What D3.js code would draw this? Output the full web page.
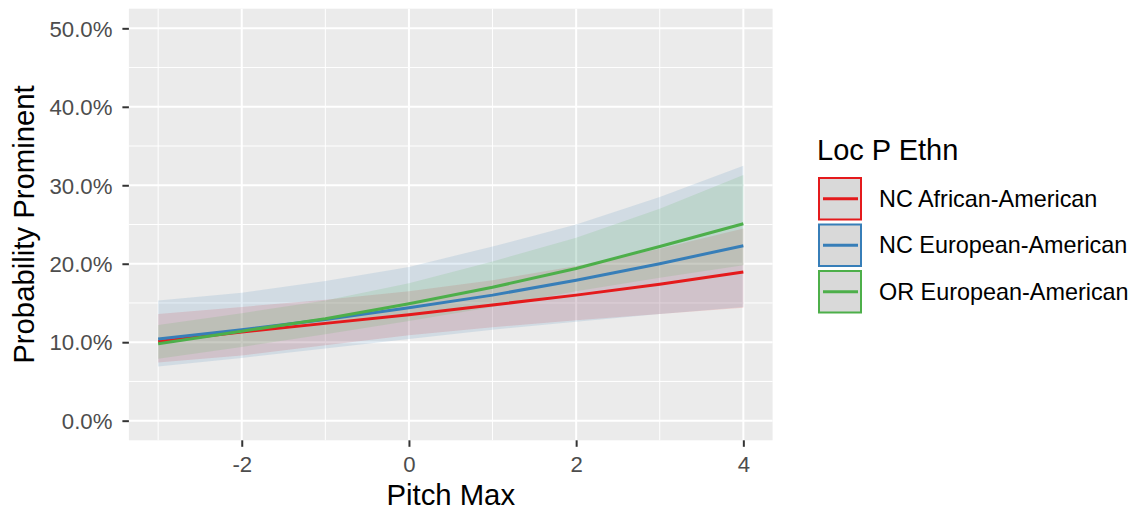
<!DOCTYPE html>
<html>
<head>
<meta charset="utf-8">
<script src="https://cdn.jsdelivr.net/npm/d3@7"></script>
<style>
  html, body { margin: 0; padding: 0; background: #ffffff; }
  svg { display: block; font-family: "Liberation Sans", Arial, sans-serif; }
</style>
</head>
<body>
<svg id="chart" width="1135" height="512"></svg>
<script>
// ---- data ----
const pitchMax = [-3, -2, -1, 0, 1, 2, 3, 4];
const groups = ["NC African-American", "NC European-American", "OR European-American"];
const groupColors = ["#E41A1C", "#377EB8", "#4DAF4A"];

const fitNCAA  = [0.101, 0.113, 0.124, 0.135, 0.1475, 0.160, 0.174, 0.1895];
const lowNCAA  = [0.074, 0.083, 0.096, 0.109, 0.119, 0.128, 0.136, 0.144];
const highNCAA = [0.136, 0.145, 0.154, 0.165, 0.179, 0.197, 0.219, 0.245];

const fitNCEA  = [0.104, 0.116, 0.129, 0.144, 0.160, 0.179, 0.200, 0.223];
const lowNCEA  = [0.069, 0.080, 0.092, 0.104, 0.116, 0.126, 0.136, 0.145];
const highNCEA = [0.153, 0.163, 0.178, 0.196, 0.222, 0.250, 0.285, 0.325];

const fitOREA  = [0.098, 0.114, 0.130, 0.149, 0.170, 0.194, 0.222, 0.251];
const lowOREA  = [0.079, 0.094, 0.110, 0.127, 0.145, 0.165, 0.182, 0.198];
const highOREA = [0.122, 0.137, 0.153, 0.175, 0.203, 0.233, 0.270, 0.313];

const xTicks = [-2, 0, 2, 4];
const xMinor = [-3, -1, 1, 3];
const yTicks = [0, 0.1, 0.2, 0.3, 0.4, 0.5];
const yMinor = [0.05, 0.15, 0.25, 0.35, 0.45];

const xTitle = "Pitch Max";
const yTitle = "Probability Prominent";
const legendTitle = "Loc P Ethn";

// ---- layout ----
const svg = d3.select("#chart");
const panel = { left: 128.9, right: 772.6, top: 8.7, bottom: 440.3 };

const x = d3.scaleLinear().domain([-3.35, 4.35]).range([panel.left, panel.right]);
const y = d3.scaleLinear().domain([-0.025, 0.525]).range([panel.bottom, panel.top]);

const series = [
  { name: groups[0], color: groupColors[0], fit: fitNCAA, low: lowNCAA, high: highNCAA },
  { name: groups[1], color: groupColors[1], fit: fitNCEA, low: lowNCEA, high: highNCEA },
  { name: groups[2], color: groupColors[2], fit: fitOREA, low: lowOREA, high: highOREA }
];

// panel background
svg.append("rect")
  .attr("x", panel.left).attr("y", panel.top)
  .attr("width", panel.right - panel.left).attr("height", panel.bottom - panel.top)
  .attr("fill", "#EBEBEB");

const grid = svg.append("g");
// minor grid
grid.selectAll(".ymin").data(yMinor).enter().append("line")
  .attr("x1", panel.left).attr("x2", panel.right)
  .attr("y1", d => y(d)).attr("y2", d => y(d))
  .attr("stroke", "#ffffff").attr("stroke-width", 1);
grid.selectAll(".xmin").data(xMinor).enter().append("line")
  .attr("y1", panel.top).attr("y2", panel.bottom)
  .attr("x1", d => x(d)).attr("x2", d => x(d))
  .attr("stroke", "#ffffff").attr("stroke-width", 1);
// major grid
grid.selectAll(".ymaj").data(yTicks).enter().append("line")
  .attr("x1", panel.left).attr("x2", panel.right)
  .attr("y1", d => y(d)).attr("y2", d => y(d))
  .attr("stroke", "#ffffff").attr("stroke-width", 2);
grid.selectAll(".xmaj").data(xTicks).enter().append("line")
  .attr("y1", panel.top).attr("y2", panel.bottom)
  .attr("x1", d => x(d)).attr("x2", d => x(d))
  .attr("stroke", "#ffffff").attr("stroke-width", 2);

// ribbons
const area = d3.area()
  .x((d, i) => x(pitchMax[i]))
  .y0(d => y(d[0]))
  .y1(d => y(d[1]));
series.forEach(s => {
  const pts = s.low.map((lo, i) => [lo, s.high[i]]);
  svg.append("path")
    .attr("d", area(pts))
    .attr("fill", s.color)
    .attr("fill-opacity", 0.14)
    .attr("stroke", "none");
});

// lines
const line = d3.line().x((d, i) => x(pitchMax[i])).y(d => y(d));
series.forEach(s => {
  svg.append("path")
    .attr("d", line(s.fit))
    .attr("fill", "none")
    .attr("stroke", s.color)
    .attr("stroke-width", 3)
    .attr("stroke-linejoin", "round");
});

// axes
const fmtPct = d3.format(".1%");
const yAxis = d3.axisLeft(y).tickValues(yTicks).tickFormat(fmtPct).tickSize(6.5).tickPadding(4);
const xAxis = d3.axisBottom(x).tickValues(xTicks).tickFormat(d3.format("d")).tickSize(6.5).tickPadding(4);

const gy = svg.append("g").attr("transform", `translate(${panel.left},0)`).call(yAxis);
const gx = svg.append("g").attr("transform", `translate(0,${panel.bottom})`).call(xAxis);
[gx, gy].forEach(g => {
  g.select(".domain").remove();
  g.selectAll(".tick line").attr("stroke", "#333333").attr("stroke-width", 2);
  g.selectAll(".tick text").attr("fill", "#4D4D4D").attr("font-size", "22.2px")
    .attr("font-family", "Liberation Sans, Arial, sans-serif");
});
gy.selectAll(".tick text").attr("x", -16.5).attr("dy", "0.35em");
gx.selectAll(".tick text").attr("y", 16).attr("dy", "0.71em").text(d => d < 0 ? "-" + Math.abs(d) : d);

// axis titles
svg.append("text")
  .attr("x", (panel.left + panel.right) / 2).attr("y", 505)
  .attr("text-anchor", "middle").attr("font-size", "29.3px").attr("fill", "#000")
  .text(xTitle);
svg.append("text")
  .attr("transform", `translate(34,${(panel.top + panel.bottom) / 2}) rotate(-90)`)
  .attr("text-anchor", "middle").attr("font-size", "29.3px").attr("fill", "#000")
  .text(yTitle);

// legend
const lg = svg.append("g");
lg.append("text").attr("x", 817).attr("y", 160).attr("font-size", "29px").attr("fill", "#000")
  .text(legendTitle);
const keyTop = 177, keyH = 46.5, keyW = 44, keyX = 818;
series.forEach((s, i) => {
  const ky = keyTop + i * keyH;
  lg.append("rect").attr("x", keyX + 1).attr("y", ky + 1).attr("width", keyW - 2).attr("height", keyH - 5)
    .attr("fill", "#D9D9D9").attr("stroke", s.color).attr("stroke-width", 2);
  const cy = ky + (keyH - 3) / 2;
  lg.append("line").attr("x1", keyX + 5).attr("x2", keyX + keyW - 4)
    .attr("y1", cy).attr("y2", cy).attr("stroke", s.color).attr("stroke-width", 3);
  lg.append("text").attr("x", 879).attr("y", cy).attr("dy", "0.35em")
    .attr("font-size", "23.4px").attr("fill", "#000").text(s.name);
});
</script>
</body>
</html>
